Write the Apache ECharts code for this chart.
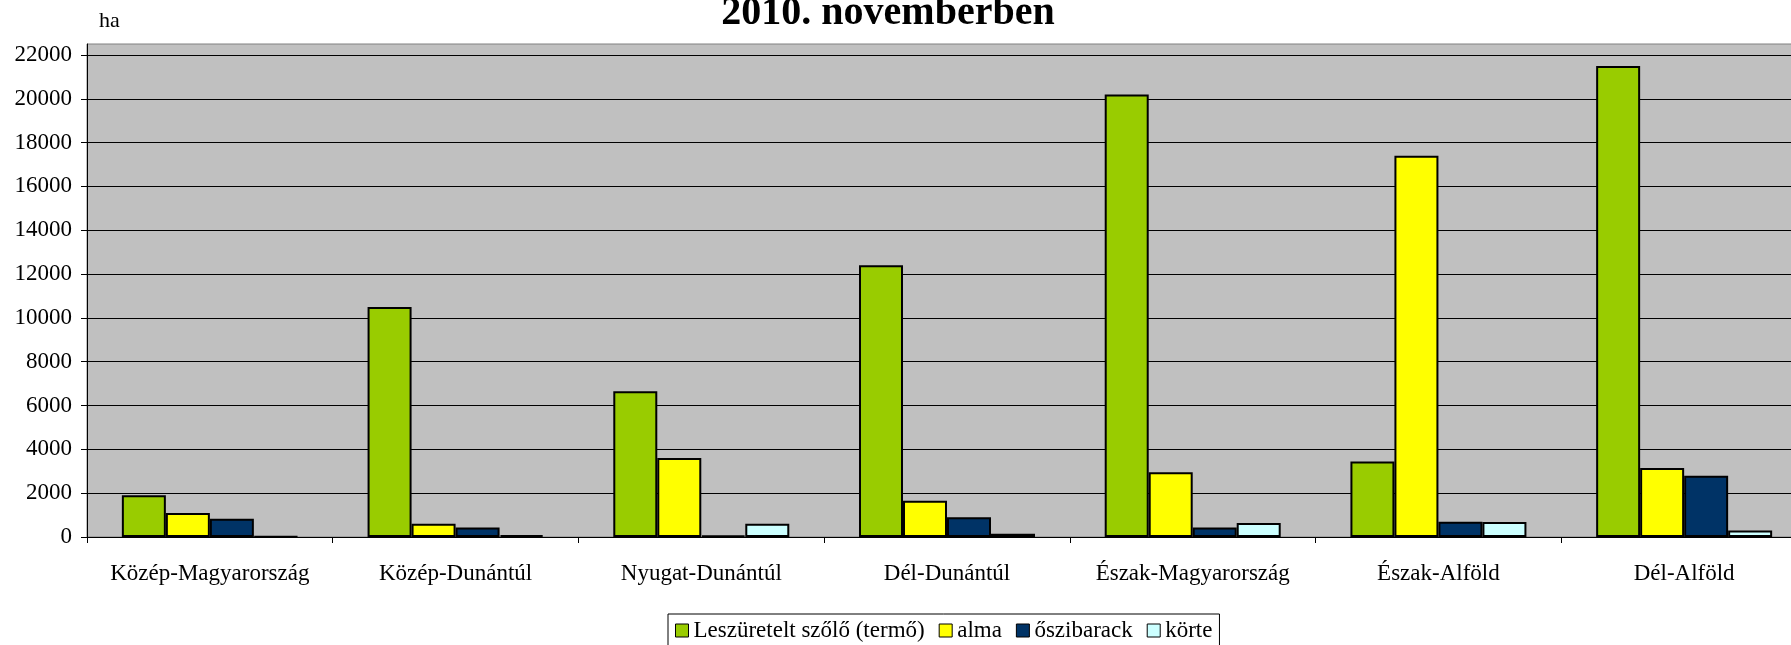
<!DOCTYPE html>
<html>
<head>
<meta charset="utf-8">
<script src="https://cdn.jsdelivr.net/npm/echarts@6/dist/echarts.min.js"></script>
<style>
html,body{margin:0;padding:0;background:#fff;overflow:hidden;width:1791px;height:645px;}
#chart{width:1816px;height:645px;}
</style>
</head>
<body>
<div id="chart"></div>
<script>
const titleText = '2010. novemberben';
const unitLabel = 'ha';
const categories = ['Közép-Magyarország','Közép-Dunántúl','Nyugat-Dunántúl','Dél-Dunántúl','Észak-Magyarország','Észak-Alföld','Dél-Alföld'];
const seriesNames = ['Leszüretelt szőlő (termő)','alma','őszibarack','körte'];
const szolo = [1900, 10500, 6650, 12400, 20200, 3450, 21500];
const alma = [1100, 600, 3600, 1650, 2950, 17400, 3150];
const oszibarack = [830, 430, 60, 900, 430, 700, 2800];
const korte = [30, 80, 600, 150, 640, 680, 300];
const yTicks = [0,2000,4000,6000,8000,10000,12000,14000,16000,18000,20000,22000];

const colors = ['#99CC00','#FFFF00','#003366','#CCFFFF'];
const font = 'Liberation Serif';
const values = [szolo, alma, oszibarack, korte];

const chart = echarts.init(document.getElementById('chart'));
chart.setOption({
  animation: false,
  backgroundColor: '#fff',
  textStyle: {fontFamily: font},
  title: {
    text: titleText,
    left: 883, top: -11, textAlign: 'center',
    textStyle: {fontFamily: font, fontWeight: 'bold', fontSize: 40, color: '#000'}
  },
  legend: {
    left: 668, top: 614,
    padding: [5, 7, 5, 7],
    borderColor: '#000', borderWidth: 1,
    backgroundColor: '#fff',
    itemWidth: 13, itemHeight: 13, itemGap: 14,
    icon: 'rect',
    itemStyle: {borderColor: '#000', borderWidth: 1},
    textStyle: {fontFamily: font, fontSize: 23, color: '#000'},
    data: seriesNames
  },
  grid: {
    left: 87, top: 44, width: 1720, height: 493,
    show: true, backgroundColor: '#C0C0C0', borderColor: '#808080', borderWidth: 1
  },
  xAxis: {
    type: 'category',
    data: categories,
    axisLine: {lineStyle: {color: '#000', width: 1}},
    axisTick: {show: true, alignWithLabel: false, length: 6, lineStyle: {color: '#000'}},
    axisLabel: {interval: 0, margin: 25, fontFamily: font, fontSize: 23, color: '#000'},
    splitLine: {show: false}
  },
  yAxis: {
    type: 'value',
    min: 0, max: 22500, interval: 2000,
    name: unitLabel,
    nameLocation: 'end',
    nameGap: 12,
    nameTextStyle: {fontFamily: font, fontSize: 22, color: '#000', align: 'left', padding: [0,0,0,12]},
    axisLine: {show: true, lineStyle: {color: '#000', width: 1}},
    axisTick: {show: true, length: 6, lineStyle: {color: '#000'}, customValues: yTicks},
    axisLabel: {margin: 15, fontFamily: font, fontSize: 23, color: '#000', customValues: yTicks,
      formatter: v => String(v)},
    splitLine: {show: true, lineStyle: {color: '#000', width: 1}}
  },
  series: seriesNames.map((n, i) => ({
    name: n,
    type: 'bar',
    data: values[i],
    barWidth: 44,
    barGap: '0%',
    itemStyle: {color: colors[i], borderColor: '#000', borderWidth: 2}
  }))
});
</script>
</body>
</html>
